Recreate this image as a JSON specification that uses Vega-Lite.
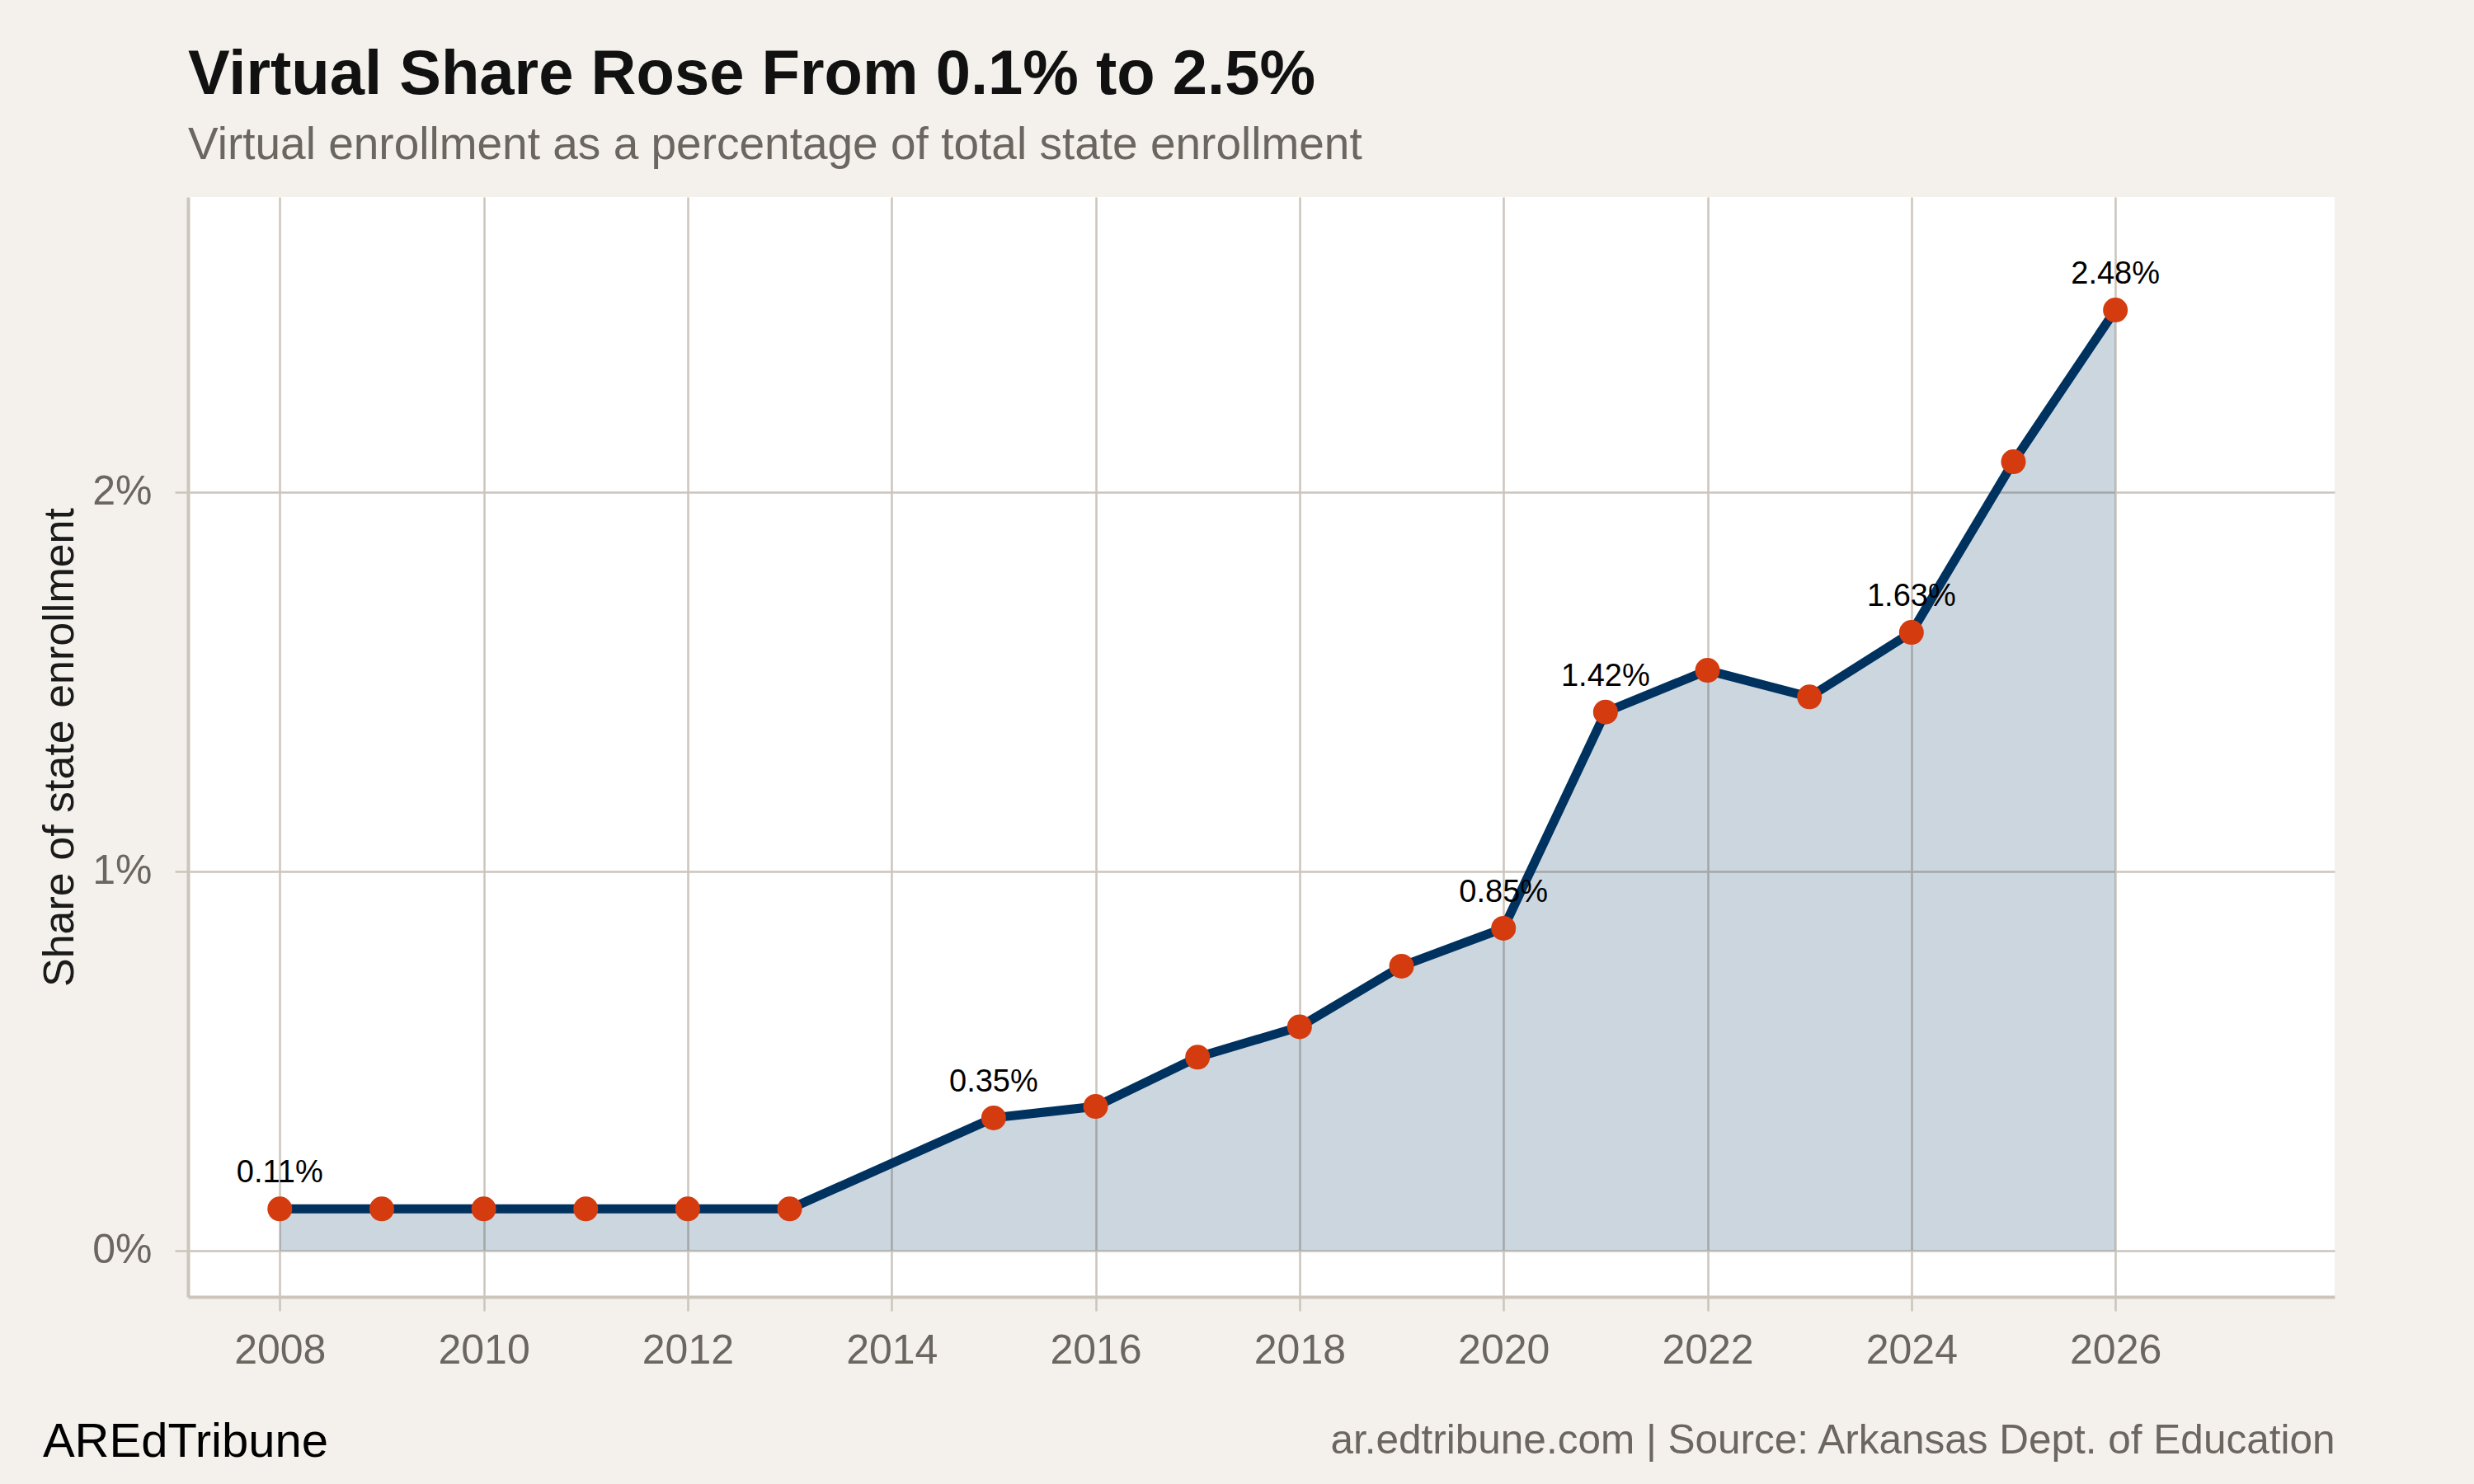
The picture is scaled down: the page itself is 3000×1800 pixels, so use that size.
{
  "$schema": "https://vega.github.io/schema/vega-lite/v6.json",
  "autosize": "none",
  "width": 2603,
  "height": 1334,
  "padding": {"left": 228, "top": 239, "right": 169, "bottom": 227},
  "background": "#f4f1ec",
  "config": {
    "font": "Liberation Sans",
    "view": {"fill": "#ffffff", "stroke": null},
    "axis": {
      "gridColor": "#cbc5bb",
      "gridWidth": 2.5,
      "domainColor": "#cbc5bb",
      "domainWidth": 4,
      "tickColor": "#cbc5bb",
      "tickWidth": 2.5,
      "labelFont": "Liberation Sans",
      "labelFontSize": 50,
      "labelColor": "#6b6660",
      "titleFont": "Liberation Sans",
      "titleFontWeight": "normal"
    }
  },
  "title": {
    "text": "Virtual Share Rose From 0.1% to 2.5%",
    "subtitle": "Virtual enrollment as a percentage of total state enrollment",
    "anchor": "start",
    "frame": "group",
    "font": "Liberation Sans",
    "fontSize": 76,
    "fontWeight": "bold",
    "color": "#111111",
    "subtitleFont": "Liberation Sans",
    "subtitleFontSize": 55,
    "subtitleColor": "#6b6660",
    "subtitlePadding": 20,
    "offset": 34
  },
  "data": {
    "values": [
      {"year": 2008, "share": 0.0011},
      {"year": 2009, "share": 0.0011},
      {"year": 2010, "share": 0.0011},
      {"year": 2011, "share": 0.0011},
      {"year": 2012, "share": 0.0011},
      {"year": 2013, "share": 0.0011},
      {"year": 2015, "share": 0.0035},
      {"year": 2016, "share": 0.0038},
      {"year": 2017, "share": 0.0051},
      {"year": 2018, "share": 0.0059},
      {"year": 2019, "share": 0.0075},
      {"year": 2020, "share": 0.0085},
      {"year": 2021, "share": 0.0142},
      {"year": 2022, "share": 0.0153},
      {"year": 2023, "share": 0.0146},
      {"year": 2024, "share": 0.0163},
      {"year": 2025, "share": 0.0208},
      {"year": 2026, "share": 0.0248}
    ]
  },
  "layer": [
    {
      "mark": {"type": "area", "color": "#00325f", "opacity": 0.2},
      "encoding": {
        "x": {
          "field": "year",
          "type": "quantitative",
          "scale": {"domain": [2007.1, 2028.15], "nice": false, "zero": false},
          "axis": {
            "values": [2008, 2010, 2012, 2014, 2016, 2018, 2020, 2022, 2024, 2026],
            "format": "d",
            "tickSize": 17,
            "labelPadding": 23,
            "title": "ar.edtribune.com | Source: Arkansas Dept. of Education",
            "titleAnchor": "end",
            "titleAlign": "right",
            "titleX": 2603,
            "titleY": 189,
            "titleBaseline": "alphabetic",
            "titleFontSize": 49.5,
            "titleColor": "#6b6660"
          }
        },
        "y": {
          "field": "share",
          "type": "quantitative",
          "scale": {"domain": [-0.00122, 0.02778], "nice": false, "zero": false},
          "axis": {
            "values": [0, 0.01, 0.02],
            "format": ".0%",
            "tickSize": 16,
            "labelPadding": 28,
            "title": "Share of state enrollment",
            "titleX": -140,
            "titleBaseline": "alphabetic",
            "titleFontSize": 52,
            "titleColor": "#1a1a1a"
          }
        },
        "y2": {"datum": 0}
      }
    },
    {
      "mark": {"type": "line", "color": "#003260", "strokeWidth": 11},
      "encoding": {
        "x": {"field": "year", "type": "quantitative"},
        "y": {"field": "share", "type": "quantitative"}
      }
    },
    {
      "mark": {"type": "point", "filled": true, "color": "#d43b0f", "size": 900, "opacity": 1},
      "encoding": {
        "x": {"field": "year", "type": "quantitative"},
        "y": {"field": "share", "type": "quantitative"}
      }
    },
    {
      "transform": [{"filter": {"field": "year", "oneOf": [2008, 2015, 2020, 2021, 2024, 2026]}}],
      "mark": {"type": "text", "fontSize": 38, "color": "#000000", "baseline": "alphabetic", "align": "center", "dy": -32},
      "encoding": {
        "x": {"field": "year", "type": "quantitative"},
        "y": {"field": "share", "type": "quantitative"},
        "text": {"field": "share", "type": "quantitative", "format": ".2%"}
      }
    },
    {
      "transform": [{"filter": "datum.year == 2008"}],
      "mark": {"type": "text", "fontSize": 58, "color": "#000000", "baseline": "alphabetic", "align": "left", "clip": false},
      "encoding": {
        "x": {"datum": 2005.676},
        "y": {"datum": -0.00544},
        "text": {"value": "AREdTribune"}
      }
    }
  ]
}
